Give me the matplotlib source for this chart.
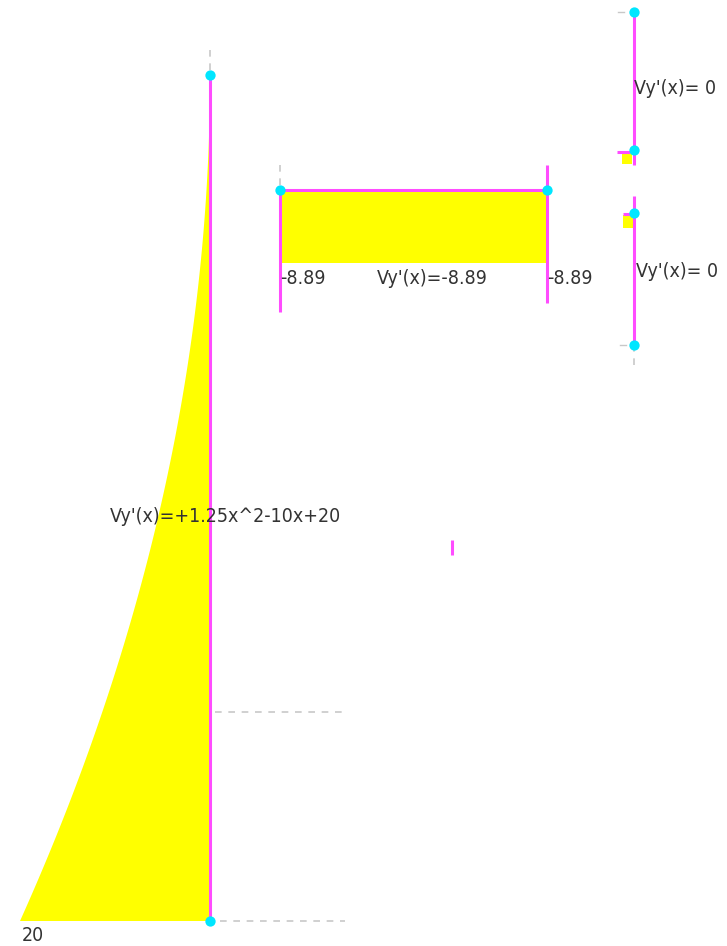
"""
Shear force diagram Vy'(x) of a small frame, drawn in screen-pixel coordinates.
"""
import numpy as np
from matplotlib import pyplot as plt

# member geometry (pixel coordinates of start / end node)
member_names = ["col_left", "beam", "col_right_top", "col_right_bot"]
member_start = [(210, 921), (280, 190), (634, 150), (634, 345)]
member_end = [(210, 75), (547, 190), (634, 12), (634, 213)]
member_length = [4.0, 3.0, 1.0, 1.0]

# shear polynomials, highest power first
shear_coeffs = [[1.25, -10.0, 20.0], [-8.89], [0.0], [0.0]]
shear_labels = ["Vy'(x)=+1.25x^2-10x+20", "Vy'(x)=-8.89", "Vy'(x)= 0", "Vy'(x)= 0"]
label_pos = [(110, 516), (377, 278), (634, 88), (636, 271)]

# end values written next to the diagram
end_values = ["20", "-8.89", "-8.89"]
end_value_pos = [(22, 935), (280, 278), (547, 278)]

# pixel per unit of shear for each member, and side the diagram is drawn on
fill_scale = [9.5, 8.2, 0.0, 0.0]
fill_normal = [(-1, 0), (0, 1), (-1, 0), (-1, 0)]

MAGENTA = "#ff4cff"
CYAN = "#00e6ff"
YELLOW = "#ffff00"
GREY = "#c8c8c8"
TEXT = "#333333"

fig = plt.figure(figsize=(7.27, 9.46), dpi=100)
ax = fig.add_axes([0, 0, 1, 1])
ax.set_xlim(0, 727)
ax.set_ylim(946, 0)
ax.axis("off")

# dashed construction lines
dashed = [
    ((210, 210), (50, 75)),
    ((280, 280), (165, 190)),
    ((634, 634), (345, 368)),
    ((215, 345), (712, 712)),
    ((220, 345), (921, 921)),
]
for xs, ys in dashed:
    ax.plot(xs, ys, color=GREY, lw=1.2, ls=(0, (4, 4)))

# shear diagrams
for i in range(len(member_names)):
    (x0, y0), (x1, y1) = member_start[i], member_end[i]
    s = np.linspace(0, member_length[i], 200)
    v = np.polyval(shear_coeffs[i], s)
    t = s / member_length[i]
    bx = x0 + (x1 - x0) * t
    by = y0 + (y1 - y0) * t
    nx, ny = fill_normal[i]
    off = np.abs(v) * fill_scale[i]
    px = bx + nx * off
    py = by + ny * off
    ax.fill(np.r_[bx, px[::-1]], np.r_[by, py[::-1]], color=YELLOW, lw=0)

# small stub diagrams at right column ends
ax.fill([622, 632, 632, 622], [151, 151, 164, 164], color=YELLOW, lw=0)
ax.fill([623, 633, 633, 623], [215, 215, 228, 228], color=YELLOW, lw=0)

# member lines
magenta_lines = [
    ((210, 210), (75, 921)),
    ((280, 547), (190, 190)),
    ((280, 280), (190, 312)),
    ((547, 547), (165, 303)),
    ((634, 634), (12, 165)),
    ((634, 634), (196, 345)),
    ((617, 630), (152, 152)),
    ((623, 634), (214, 214)),
    ((452, 452), (540, 555)),
]
for xs, ys in magenta_lines:
    ax.plot(xs, ys, color=MAGENTA, lw=2.2, solid_capstyle="butt")

# small grey ticks near the right column nodes
ax.plot([618, 624], [12, 12], color=GREY, lw=1)
ax.plot([620, 626], [345, 345], color=GREY, lw=1)

# nodes
nodes = list(member_start) + list(member_end)
ax.scatter([p[0] for p in nodes], [p[1] for p in nodes], s=55, color=CYAN,
           zorder=5, linewidths=0)

text_style = dict(fontsize=14, color=TEXT, ha="left", va="center",
                  family="DejaVu Sans", fontstretch="condensed")
for lab, (x, y) in zip(shear_labels, label_pos):
    ax.text(x, y, lab, **text_style)
for lab, (x, y) in zip(end_values, end_value_pos):
    ax.text(x, y, lab, **text_style)

fig.savefig("out.png", dpi=100)
